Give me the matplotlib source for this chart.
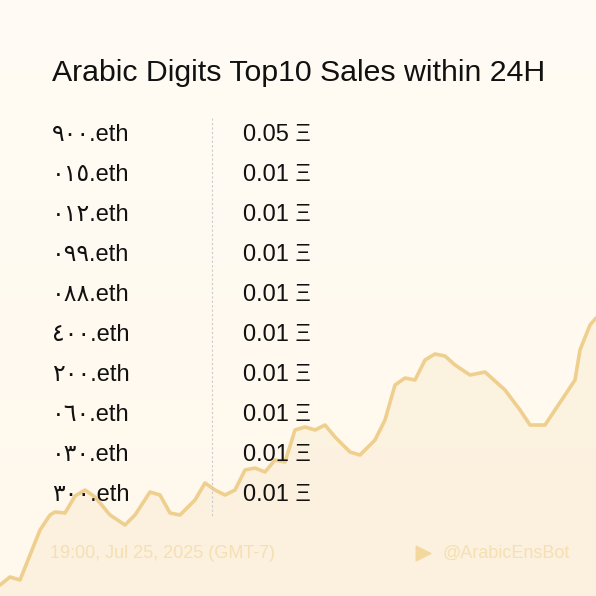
import numpy as np
import matplotlib.pyplot as plt

names = ["٩٠٠.eth", "٠١٥.eth", "٠١٢.eth", "٠٩٩.eth", "٠٨٨.eth",
         "٤٠٠.eth", "٢٠٠.eth", "٠٦٠.eth", "٠٣٠.eth", "٣٠٠.eth"]
prices = ["0.05", "0.01", "0.01", "0.01", "0.01",
          "0.01", "0.01", "0.01", "0.01", "0.01"]

# background price curve, traced in pixel coordinates (y down)
curve_x = [0, 10, 20, 30, 40, 50, 55, 65, 75, 85, 95, 110, 125, 135, 150, 160, 170, 180,
           195, 205, 215, 225, 235, 245, 255, 265, 275, 285, 295, 305, 315, 325, 335, 350,
           360, 375, 385, 395, 405, 415, 425, 435, 445, 455, 470, 485, 505, 520, 530, 545,
           555, 575, 580, 590, 596]
curve_y = [585, 577, 580, 555, 530, 515, 512, 513, 496, 490, 497, 515, 525, 515, 492, 495,
           513, 515, 500, 483, 490, 495, 490, 470, 468, 472, 460, 462, 430, 427, 430, 425,
           437, 452, 455, 440, 420, 385, 378, 380, 360, 354, 356, 365, 375, 372, 390, 410,
           425, 425, 410, 380, 350, 325, 318]

fonts = ["Liberation Sans", "DejaVu Sans"]
fig = plt.figure(figsize=(5.96, 5.96), dpi=100)
ax = fig.add_axes([0, 0, 1, 1])
ax.set_xlim(0, 596)
ax.set_ylim(596, 0)
ax.axis("off")

# soft cream background gradient
grad = np.linspace(0, 1, 256).reshape(-1, 1)
ax.imshow(grad, extent=[0, 596, 596, 0], cmap=plt.matplotlib.colors.LinearSegmentedColormap.from_list(
    "bg", ["#fffcf5", "#fff8ec"]), aspect="auto", zorder=0)

ax.fill_between(curve_x, curve_y, 596, color="#f8e4c0", alpha=0.3, lw=0, zorder=1)
ax.plot(curve_x, curve_y, color="#efcf8e", lw=2.6, solid_capstyle="round", zorder=2)

ax.text(52, 73, "Arabic Digits Top10 Sales within 24H", fontsize=21.8, family=fonts,
        va="center", ha="left", color="#111111", zorder=3)

ax.plot([212, 212], [118, 518], color="#cccccc", lw=0.8, ls=(0, (2, 2)), zorder=3)

for i, (n, p) in enumerate(zip(names, prices)):
    y = 135 + 40 * i
    ax.text(52, y, n, fontsize=17, family=fonts, va="center", ha="left", color="#111111", zorder=3)
    ax.text(243, y, p + " Ξ", fontsize=17, family=fonts, va="center", ha="left", color="#111111", zorder=3)

ax.text(50, 553, "19:00, Jul 25, 2025 (GMT-7)", fontsize=13, family=fonts,
        va="center", ha="left", color="#f5dfb3", zorder=3)
ax.text(570, 553, "@ArabicEnsBot", fontsize=13, family=fonts,
        va="center", ha="right", color="#f5dfb3", zorder=3)
ax.scatter([423], [553], s=110, marker=r"$\blacktriangleright$", color="#f3d79c", zorder=3)

fig.savefig("out.png", dpi=100)
